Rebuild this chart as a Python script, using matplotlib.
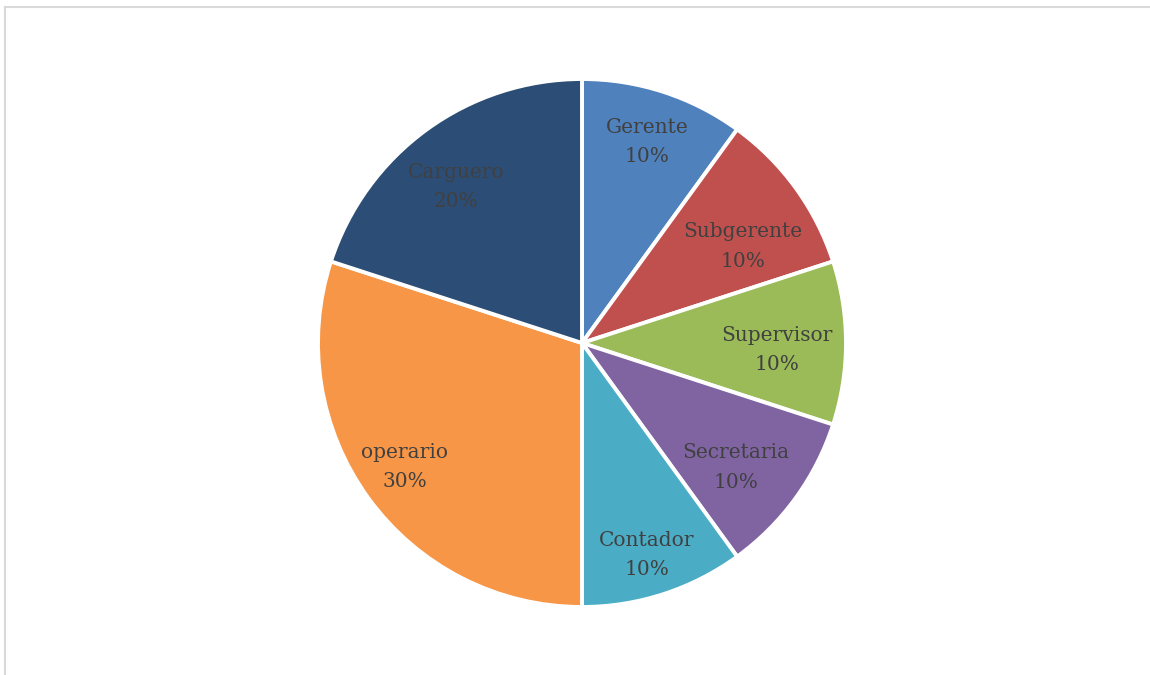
import matplotlib
matplotlib.use('Agg')
import matplotlib.pyplot as plt
from matplotlib.lines import Line2D
import numpy as np

# puestos y porcentajes
puestos = ['Gerente', 'Subgerente', 'Supervisor', 'Secretaria', 'Contador', 'operario', 'Carguero']
porcentajes = [10, 10, 10, 10, 10, 30, 20]
colores = ['#4F81BD', '#C0504D', '#9BBB59', '#8064A2', '#4BACC6', '#F79646', '#2C4D75']

# label placement tweaks (radius, angle shift in degrees)
label_r = [0.80, 0.71, 0.74, 0.75, 0.84, 0.82, 0.76]
label_shift = [0, -5, -2, -3, -1, -1, 3]

fig = plt.figure(figsize=(11.5, 6.75), dpi=100)
W, H = 1150, 675

# light chart border (only top/left visible in the crop)
bx, by = 5 / W, 1 - 7 / H
fig.add_artist(Line2D([bx, 1.0], [by, by], transform=fig.transFigure, color='#D9D9D9', lw=1.5))
fig.add_artist(Line2D([bx, bx], [0.0, by], transform=fig.transFigure, color='#D9D9D9', lw=1.5))

cx, cy, r = 582, 343, 264
ax = fig.add_axes([(cx - r) / W, (H - cy - r) / H, 2 * r / W, 2 * r / H])
wedges, _ = ax.pie(porcentajes, colors=colores, startangle=90, counterclock=False,
                   wedgeprops=dict(edgecolor='white', linewidth=2.8))
ax.set_xlim(-1, 1)
ax.set_ylim(-1, 1)

for w, nombre, p, rr, sh in zip(wedges, puestos, porcentajes, label_r, label_shift):
    ang = np.deg2rad((w.theta1 + w.theta2) / 2 + sh)
    ax.text(rr * np.cos(ang), rr * np.sin(ang), f'{nombre}\n{p}%', ha='center', va='center',
            fontsize=14.5, color='#404040', family='DejaVu Serif', linespacing=1.7)

fig.savefig('out.png', dpi=100)
